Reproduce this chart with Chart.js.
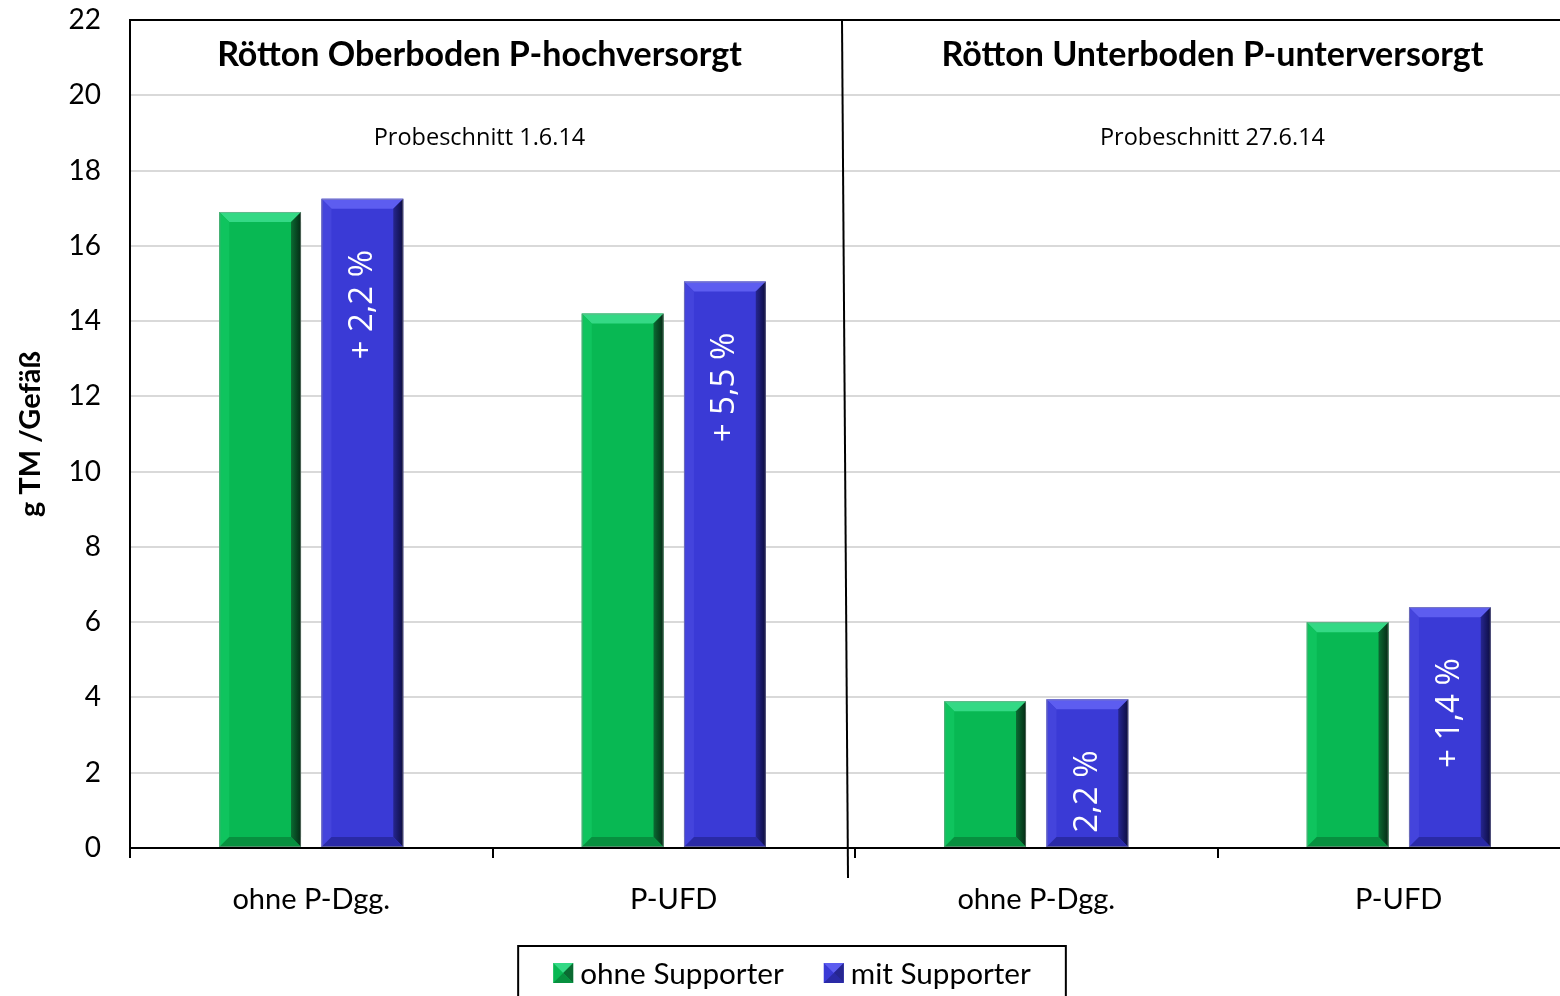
<!DOCTYPE html>
<html>
<head>
<meta charset="utf-8">
<script src="https://cdn.jsdelivr.net/npm/chart.js@4.4.1/dist/chart.umd.min.js"></script>
<style>
html, body { margin: 0; padding: 0; background: #fff; overflow: hidden; width: 1560px; height: 996px; }
#wrap { position: relative; width: 1584px; height: 1010px; }
</style>
</head>
<body>
<div id="wrap"><canvas id="ctx"></canvas></div>
<script>
const categories = ['ohne P-Dgg.', 'P-UFD', 'ohne P-Dgg.', 'P-UFD']
const ohneSupporter = [16.9, 14.2, 3.9, 6.0]
const mitSupporter = [17.25, 15.05, 3.95, 6.4]
const mitLabels = ['+ 2,2 %', '+ 5,5 %', '+ 2,2 %', '+ 1,4 %']
const panelTitles = ['Rötton Oberboden P-hochversorgt', 'Rötton Unterboden P-unterversorgt']
const panelSubtitles = ['Probeschnitt 1.6.14', 'Probeschnitt 27.6.14']

const looks = [
    {base: '#08b853', light: '#34d985', side: '#0fc45e', dark: '#0b6a32', darkest: '#042a14', bottom: '#07903f'},
    {base: '#3a3ad6', light: '#5d5df0', side: '#4444dc', dark: '#262690', darkest: '#0c0c40', bottom: '#2a2aa6'}
]

const bevelBars = {
    id: 'bevelBars',
    afterDatasetsDraw: (chart) => {
        const {ctx, chartArea} = chart
        chart.data.datasets.forEach((ds, i) => {
            const c = looks[i]
            chart.getDatasetMeta(i).data.forEach((bar, j) => {
                const l = bar.x - bar.width / 2
                const r = bar.x + bar.width / 2
                const t = bar.y
                const b = bar.base
                const e = 10
                ctx.save()
                // top
                ctx.fillStyle = c.light
                ctx.beginPath()
                ctx.moveTo(l, t); ctx.lineTo(r, t); ctx.lineTo(r - e, t + e); ctx.lineTo(l + e, t + e)
                ctx.closePath(); ctx.fill()
                // left
                ctx.fillStyle = c.side
                ctx.beginPath()
                ctx.moveTo(l, t); ctx.lineTo(l + e, t + e); ctx.lineTo(l + e, b - e); ctx.lineTo(l, b)
                ctx.closePath(); ctx.fill()
                // right
                const g = ctx.createLinearGradient(r - e, 0, r, 0)
                g.addColorStop(0, c.dark)
                g.addColorStop(1, c.darkest)
                ctx.fillStyle = g
                ctx.beginPath()
                ctx.moveTo(r, t); ctx.lineTo(r, b); ctx.lineTo(r - e, b - e); ctx.lineTo(r - e, t + e)
                ctx.closePath(); ctx.fill()
                // bottom
                ctx.fillStyle = c.bottom
                ctx.beginPath()
                ctx.moveTo(l, b); ctx.lineTo(r, b); ctx.lineTo(r - e, b - e); ctx.lineTo(l + e, b - e)
                ctx.closePath(); ctx.fill()
                ctx.strokeStyle = 'rgba(150,150,150,0.5)'
                ctx.lineWidth = 1
                ctx.strokeRect(l + 0.5, t + 0.5, r - l - 1, b - t - 1)
                ctx.restore()

                if (i === 1) {
                    ctx.save()
                    ctx.beginPath()
                    ctx.rect(chartArea.left, chartArea.top, chartArea.width, b - 6 - chartArea.top)
                    ctx.clip()
                    ctx.translate(bar.x, t + 106)
                    ctx.rotate(-Math.PI / 2)
                    ctx.fillStyle = '#fff'
                    ctx.font = '33px "Open Sans"'
                    ctx.textAlign = 'center'
                    ctx.textBaseline = 'middle'
                    ctx.fillText(mitLabels[j], 0, 0)
                    ctx.restore()
                }
            })
        })
    }
}

const panels = {
    id: 'panels',
    afterDraw: (chart) => {
        const {ctx, chartArea} = chart
        const x = chart.scales.x
        const edge = (x.getPixelForValue(1) + x.getPixelForValue(2)) / 2
        ctx.save()
        // divider
        ctx.strokeStyle = '#000'
        ctx.lineWidth = 2
        ctx.beginPath()
        ctx.moveTo(edge - 13, chartArea.top)
        ctx.lineTo(edge - 7, chartArea.bottom + 30)
        ctx.stroke()

        const centers = [(chartArea.left + edge) / 2 - 13, (edge + chartArea.right) / 2 - 5]
        ctx.fillStyle = '#000'
        ctx.textAlign = 'center'
        ctx.textBaseline = 'middle'
        centers.forEach((cx, k) => {
            ctx.font = 'bold 34px Lato'
            ctx.fillText(panelTitles[k], cx, chartArea.top + 35)
            ctx.font = '23.5px "Open Sans"'
            ctx.fillText(panelSubtitles[k], cx, chartArea.top + 118)
        })

        // legend
        ctx.font = '29.7px Lato'
        const sq = 20, gap = 7, between = 40, pad = 35
        const items = chart.data.datasets.map((ds, i) => ({text: ds.label, w: ctx.measureText(ds.label).width, c: looks[i]}))
        const total = items.reduce((s, it) => s + sq + gap + it.w, 0) + between * (items.length - 1)
        const mid = chart.width / 2
        const ly = 973
        ctx.lineWidth = 2
        ctx.strokeRect(mid - total / 2 - pad, ly - 27, total + pad * 2, 80)
        let px = mid - total / 2
        items.forEach(it => {
            const c = it.c
            const l = px, t = ly - sq / 2, r = px + sq, b = ly + sq / 2, cx = px + sq / 2, cy = ly
            ctx.fillStyle = c.base; ctx.fillRect(l, t, sq, sq)
            ctx.fillStyle = c.light
            ctx.beginPath(); ctx.moveTo(l, t); ctx.lineTo(r, t); ctx.lineTo(cx, cy); ctx.closePath(); ctx.fill()
            ctx.fillStyle = c.dark
            ctx.beginPath(); ctx.moveTo(r, t); ctx.lineTo(r, b); ctx.lineTo(cx, cy); ctx.closePath(); ctx.fill()
            ctx.fillStyle = c.bottom
            ctx.beginPath(); ctx.moveTo(l, b); ctx.lineTo(r, b); ctx.lineTo(cx, cy); ctx.closePath(); ctx.fill()
            ctx.fillStyle = '#000'
            ctx.textAlign = 'left'
            ctx.fillText(it.text, px + sq + gap, ly + 1)
            px += sq + gap + it.w + between
        })
        ctx.restore()
    }
}

const chart = new Chart(document.getElementById('ctx'), {
    type: 'bar',
    data: {
        labels: categories,
        datasets: [
            {label: 'ohne Supporter', data: ohneSupporter, backgroundColor: looks[0].base, borderWidth: 0},
            {label: 'mit Supporter', data: mitSupporter, backgroundColor: looks[1].base, borderWidth: 0}
        ]
    },
    options: {
        responsive: true,
        maintainAspectRatio: false,
        animation: false,
        categoryPercentage: 0.564,
        barPercentage: 0.8,
        layout: {padding: {top: 20, right: 4, left: 0, bottom: 0}},
        plugins: {
            legend: {display: false},
            tooltip: {enabled: false}
        },
        scales: {
            x: {
                grid: {drawOnChartArea: false, drawTicks: true, tickLength: 10, color: '#000', lineWidth: 2, offset: true},
                border: {color: '#000', width: 2},
                ticks: {color: '#000', font: {family: 'Lato', size: 29}, padding: 24},
                afterFit: s => { s.height = 162; s.paddingLeft = 0; s.paddingRight = 0 }
            },
            y: {
                min: 0,
                max: 22,
                ticks: {stepSize: 2, color: '#000', font: {family: 'Lato', size: 28}, padding: 29},
                grid: {color: c => c.tick.value === 22 ? '#000' : '#d9d9d9', lineWidth: 2, drawTicks: false},
                border: {color: '#000', width: 2},
                title: {display: true, text: 'g TM /Gefäß', color: '#000', font: {family: 'Lato', size: 29, weight: 'bold'}, padding: {top: 13, bottom: 0}},
                afterFit: s => { s.width = 130; s.paddingTop = 0; s.paddingBottom = 0 }
            }
        }
    },
    plugins: [bevelBars, panels]
})
</script>
</body>
</html>
